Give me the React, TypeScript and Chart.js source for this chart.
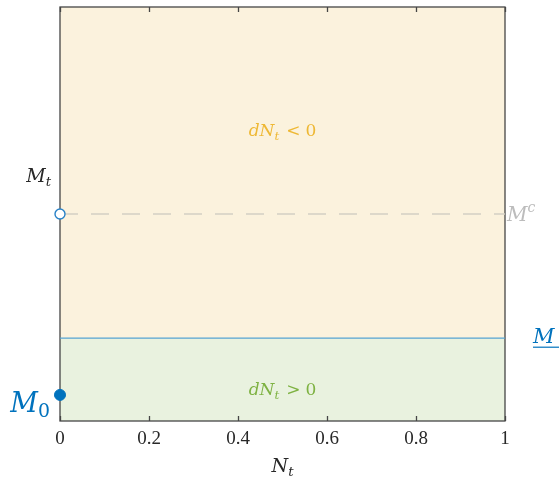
import React, { useEffect, useRef } from "react";
import { Chart, registerables } from "chart.js";

Chart.register(...registerables);

// Horizontal range of the phase diagram (N_t)
const nRange = [0, 1];
const xTickValues = [0, 0.2, 0.4, 0.6, 0.8, 1];
const xTickLabels = ["0", "0.2", "0.4", "0.6", "0.8", "1"];

// Levels of M on the vertical axis
const mRange = [0, 1];
const boundaryM = [0.2, 0.2]; // the M threshold separating growth and decline
const criticalM = [0.5, 0.5]; // M^c
const topM = [1, 1];
const startPoint = [{ x: 0, y: 0.063 }]; // M_0
const criticalPoint = [{ x: 0, y: 0.5 }];
const mtLabelLevel = 0.595;

const YELLOW_BG = "rgb(251,242,221)";
const GREEN_BG = "rgb(233,242,223)";
const BLUE_LINE = "rgb(86,163,210)";
const BLUE_DOT = "rgb(0,114,189)";
const BLUE_RING = "rgb(40,130,200)";
const GREY_DASH = "rgb(212,208,196)";
const GREY_TEXT = "rgb(188,188,188)";
const ORANGE_TEXT = "rgb(238,184,52)";
const GREEN_TEXT = "rgb(126,178,66)";
const AXIS = "rgb(70,70,70)";

const SERIF = "'Liberation Serif', 'DejaVu Serif', serif";
const MATH = "'DejaVu Serif', serif";

type Seg = { t: string; it?: boolean; s?: number; dy?: number; gap?: number };

function fontOf(sg: Seg, size: number) {
  return `${sg.it ? "italic " : ""}${size * (sg.s ?? 1)}px ${MATH}`;
}

function measure(ctx: CanvasRenderingContext2D, segs: Seg[], size: number) {
  let w = 0;
  for (const sg of segs) {
    ctx.font = fontOf(sg, size);
    w += ctx.measureText(sg.t).width + (sg.gap ?? 0);
  }
  return w;
}

function drawMath(
  ctx: CanvasRenderingContext2D,
  x: number,
  y: number,
  segs: Seg[],
  size: number,
  color: string,
  align: "left" | "center" | "right"
) {
  const w = measure(ctx, segs, size);
  let cx = align === "left" ? x : align === "center" ? x - w / 2 : x - w;
  ctx.fillStyle = color;
  ctx.textBaseline = "alphabetic";
  ctx.textAlign = "left";
  for (const sg of segs) {
    ctx.font = fontOf(sg, size);
    ctx.fillText(sg.t, cx, y + (sg.dy ?? 0) * size);
    cx += ctx.measureText(sg.t).width + (sg.gap ?? 0);
  }
  return w;
}

// Axis box with inward ticks, drawn after the region fills and before the markers
const axisBox = {
  id: "axisBox",
  beforeDatasetsDraw(chart: any) {
    const { ctx, chartArea, scales } = chart;
    const xs = scales.x;
    ctx.save();
    ctx.strokeStyle = AXIS;
    ctx.lineWidth = 1.3;
    ctx.strokeRect(chartArea.left, chartArea.top, chartArea.right - chartArea.left, chartArea.bottom - chartArea.top);
    for (const v of xTickValues) {
      const px = Math.round(xs.getPixelForValue(v)) + 0.5;
      ctx.beginPath();
      ctx.moveTo(px, chartArea.bottom);
      ctx.lineTo(px, chartArea.bottom - 5);
      ctx.moveTo(px, chartArea.top);
      ctx.lineTo(px, chartArea.top + 5);
      ctx.stroke();
    }
    ctx.restore();
  },
};

const annotations = {
  id: "phaseAnnotations",
  afterDraw(chart: any) {
    const { ctx, chartArea, scales } = chart;
    const xs = scales.x;
    const ys = scales.y;
    ctx.save();

    const midX = xs.getPixelForValue((nRange[0] + nRange[1]) / 2);

    // region labels
    const decline: Seg[] = [
      { t: "dN", it: true },
      { t: "t", it: true, s: 0.7, dy: 0.22, gap: 7 },
      { t: "<", gap: 5 },
      { t: "0" },
    ];
    const growth: Seg[] = [
      { t: "dN", it: true },
      { t: "t", it: true, s: 0.7, dy: 0.22, gap: 7 },
      { t: ">", gap: 5 },
      { t: "0" },
    ];
    drawMath(ctx, midX, ys.getPixelForValue(0.71) + 9, decline, 17, ORANGE_TEXT, "center");
    drawMath(ctx, midX, ys.getPixelForValue(0.08) + 7, growth, 17, GREEN_TEXT, "center");

    // M_t axis label
    drawMath(
      ctx,
      chartArea.left - 9,
      ys.getPixelForValue(mtLabelLevel) + 7,
      [
        { t: "M", it: true },
        { t: "t", it: true, s: 0.7, dy: 0.22 },
      ],
      19,
      "rgb(40,40,40)",
      "right"
    );

    // M^c label
    drawMath(
      ctx,
      chartArea.right + 2,
      ys.getPixelForValue(criticalM[0]) + 7,
      [
        { t: "M", it: true },
        { t: "c", it: true, s: 0.7, dy: -0.45 },
      ],
      20,
      GREY_TEXT,
      "left"
    );

    // underlined M at the threshold
    const by = ys.getPixelForValue(boundaryM[0]);
    drawMath(ctx, chartArea.right + 28, by + 5, [{ t: "M", it: true }], 21, BLUE_DOT, "left");
    ctx.strokeStyle = BLUE_DOT;
    ctx.lineWidth = 1.2;
    ctx.beginPath();
    ctx.moveTo(chartArea.right + 28, by + 9);
    ctx.lineTo(chartArea.right + 54, by + 9);
    ctx.stroke();

    // M_0 label
    drawMath(
      ctx,
      chartArea.left - 10,
      ys.getPixelForValue(startPoint[0].y) + 17,
      [
        { t: "M", it: true },
        { t: "0", s: 0.7, dy: 0.2 },
      ],
      27,
      BLUE_DOT,
      "right"
    );

    // N_t axis title
    drawMath(
      ctx,
      midX,
      chartArea.bottom + 51,
      [
        { t: "N", it: true },
        { t: "t", it: true, s: 0.7, dy: 0.22 },
      ],
      19,
      "rgb(40,40,40)",
      "center"
    );

    ctx.restore();
  },
};

export default function App() {
  const ref = useRef<HTMLCanvasElement>(null);

  useEffect(() => {
    if (!ref.current) return;
    const line = (ys: number[]) => [
      { x: nRange[0], y: ys[0] },
      { x: nRange[1], y: ys[1] },
    ];
    const chart = new Chart(ref.current, {
      type: "scatter",
      data: {
        datasets: [
          {
            label: "threshold",
            data: line(boundaryM),
            showLine: true,
            borderColor: BLUE_LINE,
            borderWidth: 1.3,
            pointRadius: 0,
            fill: "origin",
            backgroundColor: GREEN_BG,
            order: 3,
          },
          {
            label: "top",
            data: line(topM),
            showLine: true,
            borderWidth: 0,
            borderColor: "rgba(0,0,0,0)",
            pointRadius: 0,
            fill: "-1",
            backgroundColor: YELLOW_BG,
            order: 4,
          },
          {
            label: "critical",
            data: line(criticalM),
            showLine: true,
            borderColor: GREY_DASH,
            borderWidth: 1.6,
            borderDash: [18, 13],
            pointRadius: 0,
            fill: false,
            order: 2,
          },
          {
            label: "criticalPoint",
            data: criticalPoint,
            pointRadius: 5,
            pointBackgroundColor: "#ffffff",
            pointBorderColor: BLUE_RING,
            pointBorderWidth: 1.4,
            clip: false,
            order: 1,
          },
          {
            label: "start",
            data: startPoint,
            pointRadius: 5.5,
            pointBackgroundColor: BLUE_DOT,
            pointBorderColor: BLUE_DOT,
            pointBorderWidth: 1,
            clip: false,
            order: 0,
          },
        ],
      },
      options: {
        animation: false,
        responsive: false,
        maintainAspectRatio: false,
        layout: { padding: { left: 0, right: 54, top: 7, bottom: 0 } },
        plugins: {
          legend: { display: false },
          tooltip: { enabled: false },
          title: { display: false },
          filler: { propagate: false, drawTime: "beforeDatasetsDraw" },
        },
        scales: {
          x: {
            type: "linear",
            min: nRange[0],
            max: nRange[1],
            grid: { display: false, drawTicks: false },
            border: { display: false },
            afterBuildTicks: (scale: any) => {
              scale.ticks = xTickValues.map((v) => ({ value: v }));
            },
            afterFit: (scale: any) => {
              scale.height = 59;
            },
            ticks: {
              padding: 7,
              color: "rgb(40,40,40)",
              font: { family: SERIF, size: 19 },
              maxRotation: 0,
              callback: (v: any) => {
                const i = xTickValues.indexOf(Number(v));
                return i >= 0 ? xTickLabels[i] : "";
              },
            },
          },
          y: {
            type: "linear",
            min: mRange[0],
            max: mRange[1],
            grid: { display: false, drawTicks: false },
            border: { display: false },
            ticks: { display: false },
            afterFit: (scale: any) => {
              scale.width = 60;
            },
          },
        },
      },
      plugins: [axisBox, annotations],
    });
    return () => chart.destroy();
  }, []);

  return (
    <div style={{ position: "fixed", left: 0, top: 0, width: 559, height: 480, background: "#fff" }}>
      <canvas ref={ref} width={559} height={480} style={{ display: "block", width: 559, height: 480 }} />
    </div>
  );
}
